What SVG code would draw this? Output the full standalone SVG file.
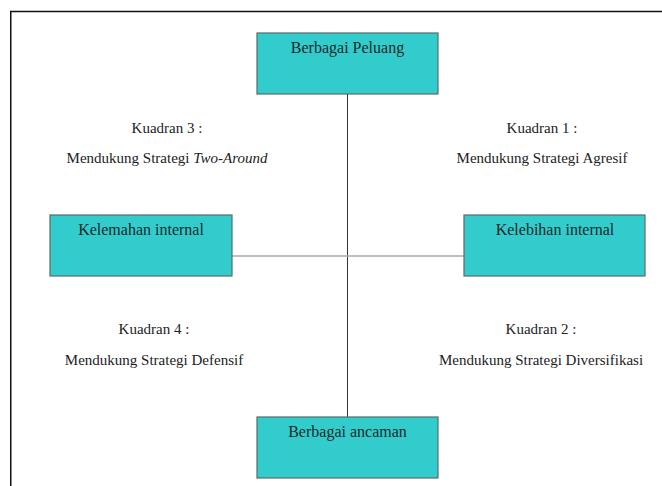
<svg xmlns="http://www.w3.org/2000/svg" width="662" height="486" viewBox="0 0 662 486">
<style>
.box{fill:#33cccc;stroke:#5a6b6b;stroke-width:1.2}
.bl{font-family:"Liberation Serif","Times New Roman",serif;font-size:16px;fill:#1c2a2a;text-anchor:middle}
.q{font-family:"Liberation Serif","Times New Roman",serif;font-size:15px;fill:#222;text-anchor:middle}
</style>
<rect width="662" height="486" fill="#ffffff"/>
<path d="M10.75,486 V11.5 H662" fill="none" stroke="#111" stroke-width="1.5"/>
<g id="connectors">
<line x1="347.5" y1="94" x2="347.5" y2="417" stroke="#333" stroke-width="1"/>
<line x1="232" y1="256" x2="464" y2="256" stroke="#aaaaaa" stroke-width="1.5"/>
</g>
<g id="peluang">
<rect class="box" x="257" y="33" width="181" height="61"/>
<text class="bl" x="347.5" y="53">Berbagai Peluang</text>
</g>
<g id="ancaman">
<rect class="box" x="257" y="417" width="181" height="61"/>
<text class="bl" x="347.5" y="437">Berbagai ancaman</text>
</g>
<g id="kelemahan">
<rect class="box" x="50" y="215" width="182" height="61"/>
<text class="bl" x="141" y="235">Kelemahan internal</text>
</g>
<g id="kelebihan">
<rect class="box" x="464" y="215" width="181" height="61"/>
<text class="bl" x="555" y="235">Kelebihan internal</text>
</g>
<g id="kuadran3">
<text class="q" x="167" y="133">Kuadran 3 :</text>
<text class="q" x="167" y="163">Mendukung Strategi <tspan font-style="italic">Two-Around</tspan></text>
</g>
<g id="kuadran1">
<text class="q" x="542" y="133">Kuadran 1 :</text>
<text class="q" x="542" y="163">Mendukung Strategi Agresif</text>
</g>
<g id="kuadran4">
<text class="q" x="154" y="334">Kuadran 4 :</text>
<text class="q" x="154" y="365">Mendukung Strategi Defensif</text>
</g>
<g id="kuadran2">
<text class="q" x="541" y="334">Kuadran 2 :</text>
<text class="q" x="541" y="365">Mendukung Strategi Diversifikasi</text>
</g>
</svg>
